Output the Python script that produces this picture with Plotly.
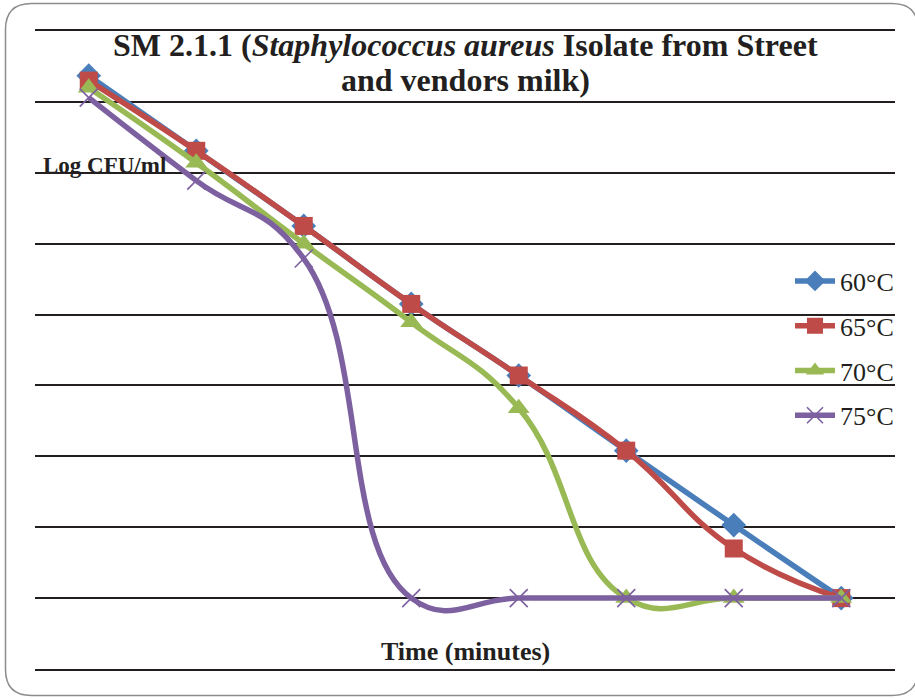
import plotly.graph_objects as go

# Survival curves of S. aureus at four holding temperatures
time_steps = [0, 1, 2, 3, 4, 5, 6, 7]
series_names = ["60°C", "65°C", "70°C", "75°C"]
log_60 = [7.37, 6.31, 5.25, 4.15, 3.14, 2.08, 1.03, 0.0]
log_65 = [7.30, 6.31, 5.25, 4.15, 3.14, 2.08, 0.70, 0.0]
log_70 = [7.20, 6.14, 5.00, 3.89, 2.68, 0.0, 0.0, 0.0]
log_75 = [7.06, 5.89, 4.79, 0.0, 0.0, 0.0, 0.0, 0.0]
y_gridlines = [-1, 0, 1, 2, 3, 4, 5, 6, 7, 8]

W, H = 915, 698
L, R, T, B = 35, 20, 31, 29
PW, PH = W - L - R, H - T - B

styles = [
    dict(color="#4A7EBB", symbol="diamond", size=19, lw=None),
    dict(color="#BE4B48", symbol="square", size=18, lw=None),
    dict(color="#98B954", symbol="triangle-up", size=19, lw=None),
    dict(color="#7D60A0", symbol="x-thin-open", size=18, lw=1.6),
]

fig = go.Figure()
for name, vals, st in zip(series_names, [log_60, log_65, log_70, log_75], styles):
    marker = dict(symbol=st["symbol"], size=st["size"], color=st["color"])
    if st["lw"]:
        marker["line"] = dict(color=st["color"], width=st["lw"])
    else:
        marker["line"] = dict(width=0)
    fig.add_trace(go.Scatter(
        x=time_steps, y=vals, name=name, mode="lines+markers",
        line=dict(color=st["color"], width=5.5, shape="spline", smoothing=1.3),
        marker=marker, legendgroup=name,
    ))


def px(x, y):
    """Convert figure pixel coordinates to paper coordinates."""
    return (x - L) / PW, (H - B - y) / PH


# rounded outer frame
x0, y0, x1, y1, r = 5.5, 3.5, 918, 695.5, 26
pts = [
    ("M", [(x0 + r, y0)]), ("L", [(x1 - r, y0)]), ("Q", [(x1, y0), (x1, y0 + r)]),
    ("L", [(x1, y1 - r)]), ("Q", [(x1, y1), (x1 - r, y1)]), ("L", [(x0 + r, y1)]),
    ("Q", [(x0, y1), (x0, y1 - r)]), ("L", [(x0, y0 + r)]), ("Q", [(x0, y0), (x0 + r, y0)]),
]
path = ""
for cmd, ps in pts:
    path += cmd + " ".join("%.5f,%.5f" % px(a, b) for a, b in ps) + " "
path += "Z"
fig.add_shape(type="path", path=path, xref="paper", yref="paper",
              line=dict(color="#8C8C8C", width=1.5), layer="below")

font_family = "Liberation Serif"
txt = "#231F20"

title_lines = [
    "<b>SM 2.1.1 (<i>Staphylococcus aureus</i> Isolate from Street</b>",
    "<b>and vendors milk)</b>",
]
for line, yc in zip(title_lines, [45, 80]):
    fig.add_annotation(
        text=line, xref="paper", yref="paper", x=0.5, y=px(0, yc)[1],
        xanchor="center", yanchor="middle", showarrow=False,
        font=dict(family=font_family, size=32, color=txt),
    )
fig.add_annotation(
    text="<b>Log CFU/ml</b>", xref="paper", yref="paper", x=px(41, 0)[0], y=px(0, 165)[1],
    xanchor="left", yanchor="middle", showarrow=False,
    font=dict(family=font_family, size=23, color=txt),
)
fig.add_annotation(
    text="<b>Time (minutes)</b>", xref="paper", yref="paper", x=px(465, 0)[0], y=px(0, 651)[1],
    xanchor="center", yanchor="middle", showarrow=False,
    font=dict(family=font_family, size=26, color=txt),
)

fig.update_xaxes(range=[-0.5, 7.5], showgrid=False, showticklabels=False, zeroline=False,
                 showline=True, mirror=True, linecolor=txt, linewidth=1.6, ticks="")
fig.update_yaxes(range=[-1, 8], tickvals=y_gridlines, showgrid=True, gridcolor=txt, gridwidth=1.6,
                 showticklabels=False, zeroline=False, showline=False, ticks="")

fig.update_layout(
    width=W, height=H, margin=dict(l=L, r=R, t=T, b=B),
    paper_bgcolor="white", plot_bgcolor="white",
    showlegend=True,
    legend=dict(x=px(790, 0)[0], y=px(0, 257.5)[1], xanchor="left", yanchor="top",
                font=dict(family=font_family, size=26, color=txt),
                bgcolor="rgba(0,0,0,0)", traceorder="grouped", tracegroupgap=8,
                itemwidth=40),
)

fig.write_html("out.html")
